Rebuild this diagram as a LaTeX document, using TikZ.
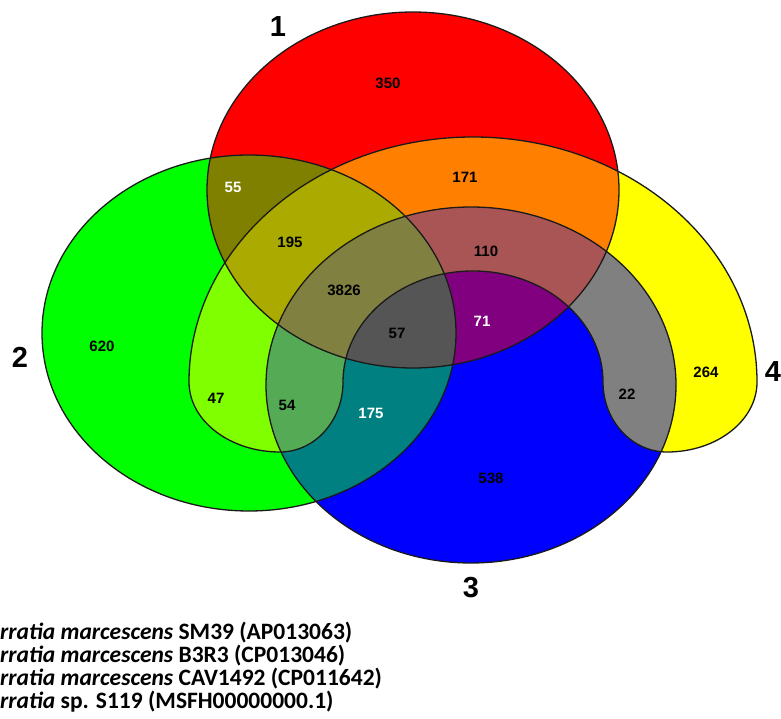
\documentclass[tikz,border=0pt]{standalone}
\usepackage{fontspec}
\setmainfont{Liberation Sans}
\newfontfamily\legendfont{Carlito}
\usepackage{xcolor}
\definecolor{cR}{HTML}{FF0000}
\definecolor{cG}{HTML}{00FF00}
\definecolor{cB}{HTML}{0000FF}
\definecolor{cY}{HTML}{FFFF00}
\definecolor{cRG}{HTML}{808000}
\definecolor{cRB}{HTML}{800080}
\definecolor{cRY}{HTML}{FF8000}
\definecolor{cGB}{HTML}{008080}
\definecolor{cGY}{HTML}{80FF00}
\definecolor{cBY}{HTML}{808080}
\definecolor{cRGB}{HTML}{555555}
\definecolor{cRGY}{HTML}{AAAA00}
\definecolor{cRBY}{HTML}{AA5555}
\definecolor{cGBY}{HTML}{55AA55}
\definecolor{cAll}{HTML}{808040}
\definecolor{cLine}{HTML}{1A1A1A}
\usepackage{tikz}
\tikzset{
  set-outline/.style={draw=cLine,line width=1.3pt},
  region-num/.style={font=\bfseries\fontsize{15}{15}\selectfont,inner sep=0pt},
  region-num-light/.style={region-num,text=white},
  set-label/.style={font=\bfseries\fontsize{29}{29}\selectfont,inner sep=0pt},
  legend-line/.style={anchor=west,inner sep=0pt,
    font=\legendfont\bfseries\fontsize{23.5}{23.5}\selectfont},
}
% the four sets, in pixel coordinates (y points down)
\newcommand{\shapeRed}{(413,190) ellipse [x radius=206, y radius=178]}
\newcommand{\shapeGreen}{(249,333) ellipse [x radius=207, y radius=178]}
\newcommand{\shapeBlue}{(471,385) ellipse [x radius=205, y radius=178]}
\newcommand{\shapeYellow}{(189,382)
  arc [start angle=180, end angle=360, x radius=284, y radius=245]
  arc [start angle=0, end angle=90, x radius=90, y radius=70]
  arc [start angle=90, end angle=180, x radius=64, y radius=70]
  arc [start angle=0, end angle=-180, x radius=130, y radius=111]
  arc [start angle=0, end angle=90, x radius=63, y radius=70]
  arc [start angle=90, end angle=180, x radius=91, y radius=70] -- cycle}

\begin{document}
\begin{tikzpicture}[x=1pt,y=-1pt]
  \useasboundingbox (0,0) rectangle (781,719);
  % single sets
  \fill[cR] \shapeRed;
  \fill[cG] \shapeGreen;
  \fill[cB] \shapeBlue;
  \fill[cY] \shapeYellow;
  % pairs
  \begin{scope} \clip \shapeRed; \fill[cRG] \shapeGreen; \end{scope}
  \begin{scope} \clip \shapeRed; \fill[cRB] \shapeBlue; \end{scope}
  \begin{scope} \clip \shapeRed; \fill[cRY] \shapeYellow; \end{scope}
  \begin{scope} \clip \shapeGreen; \fill[cGB] \shapeBlue; \end{scope}
  \begin{scope} \clip \shapeGreen; \fill[cGY] \shapeYellow; \end{scope}
  \begin{scope} \clip \shapeBlue; \fill[cBY] \shapeYellow; \end{scope}
  % triples
  \begin{scope} \clip \shapeRed; \clip \shapeGreen; \fill[cRGB] \shapeBlue; \end{scope}
  \begin{scope} \clip \shapeRed; \clip \shapeGreen; \fill[cRGY] \shapeYellow; \end{scope}
  \begin{scope} \clip \shapeRed; \clip \shapeBlue; \fill[cRBY] \shapeYellow; \end{scope}
  \begin{scope} \clip \shapeGreen; \clip \shapeBlue; \fill[cGBY] \shapeYellow; \end{scope}
  % all four
  \begin{scope} \clip \shapeRed; \clip \shapeGreen; \clip \shapeBlue;
    \fill[cAll] \shapeYellow; \end{scope}
  % outlines
  \draw[set-outline] \shapeRed;
  \draw[set-outline] \shapeGreen;
  \draw[set-outline] \shapeBlue;
  \draw[set-outline] \shapeYellow;

  \node[region-num] (n350) at (388,83) {350};
  \node[region-num] (n171) at (465,177) {171};
  \node[region-num-light] (n55) at (233,187) {55};
  \node[region-num] (n195) at (290,242) {195};
  \node[region-num] (n110) at (486,251) {110};
  \node[region-num] (n3826) at (344,290) {3826};
  \node[region-num-light] (n71) at (482,321) {71};
  \node[region-num] (n57) at (397,333) {57};
  \node[region-num] (n620) at (102,346) {620};
  \node[region-num] (n47) at (216,398) {47};
  \node[region-num] (n54) at (287,405) {54};
  \node[region-num-light] (n175) at (371,413) {175};
  \node[region-num] (n22) at (627,394) {22};
  \node[region-num] (n264) at (706,372) {264};
  \node[region-num] (n538) at (491,478) {538};

  \node[set-label] (lab1) at (278,27) {1};
  \node[set-label] (lab2) at (20,357) {2};
  \node[set-label] (lab3) at (471,588) {3};
  \node[set-label] (lab4) at (773,372) {4};

  \node[legend-line] (leg1) at (0,633) {\textit{rratia marcescens} SM39 (AP013063)};
  \node[legend-line] (leg2) at (0,656) {\textit{rratia marcescens} B3R3 (CP013046)};
  \node[legend-line] (leg3) at (0,679) {\textit{rratia marcescens} CAV1492 (CP011642)};
  \node[legend-line] (leg4) at (0,702) {\textit{rratia} sp. S119 (MSFH00000000.1)};
\end{tikzpicture}
\end{document}
